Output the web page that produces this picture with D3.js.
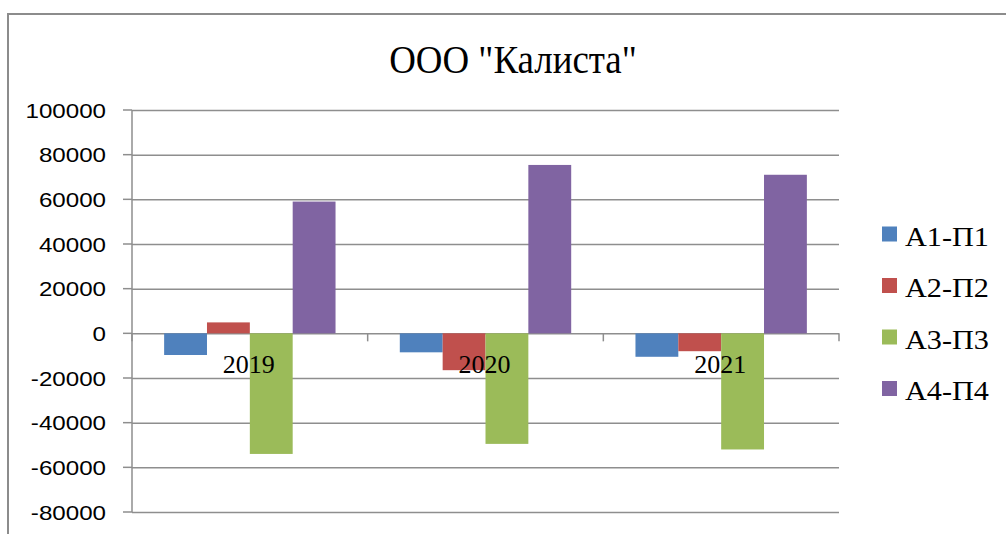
<!DOCTYPE html>
<html>
<head>
<meta charset="utf-8">
<script src="https://cdn.jsdelivr.net/npm/d3@7"></script>
<style>
  html, body { margin: 0; padding: 0; background: #fff; }
  svg { display: block; }
</style>
</head>
<body>
<svg id="chart" width="1006" height="534"></svg>
<script>
const title = 'ООО "Калиста"';
const categories = ["2019", "2020", "2021"];
const seriesNames = ["А1-П1", "А2-П2", "А3-П3", "А4-П4"];
const seriesColors = ["#4f81bd", "#c0504d", "#9bbb59", "#8064a2"];
const a1p1 = [-9700, -8500, -10500];
const a2p2 = [4900, -16500, -8000];
const a3p3 = [-54000, -49500, -52000];
const a4p4 = [59000, 75400, 71000];
const yTicks = [-80000, -60000, -40000, -20000, 0, 20000, 40000, 60000, 80000, 100000];

const seriesValues = [a1p1, a2p2, a3p3, a4p4];

(function () {
const svg = d3.select("#chart");
const W = 1006, H = 534;
const pLeft = 132, pRight = 839, pTop = 110, pBottom = 512;
const gridColor = "#8e8e8e";

svg.append("rect").attr("width", W).attr("height", H).attr("fill", "#fff");

// outer frame
svg.append("path")
  .attr("d", `M8,${H} L8,14 L${W},14`)
  .attr("fill", "none").attr("stroke", "#8c8c8c").attr("stroke-width", 2);

// title
svg.append("text")
  .attr("transform", "translate(513,73) scale(0.9,1)")
  .attr("text-anchor", "middle")
  .attr("font-family", "Liberation Serif, Times New Roman, serif")
  .attr("font-size", 41)
  .attr("fill", "#000")
  .text(title);

const y = d3.scaleLinear().domain([-80000, 100000]).range([pBottom, pTop]);
const x0 = d3.scaleBand().domain(categories).range([pLeft, pRight]).paddingInner(0).paddingOuter(0);
const x1 = d3.scaleBand().domain(seriesNames).range([0, x0.bandwidth()]).paddingInner(0).paddingOuter(0.75);

// gridlines
const yAxis = d3.axisLeft(y).tickValues(yTicks).tickSize(-(pRight - pLeft)).tickFormat("");
const gy = svg.append("g").attr("transform", `translate(${pLeft},0)`).call(yAxis);
gy.select(".domain").remove();
gy.selectAll(".tick line").attr("stroke", gridColor).attr("stroke-width", 1.5);
// outer small ticks
svg.append("g").selectAll("line").data(yTicks).join("line")
  .attr("x1", pLeft - 9).attr("x2", pLeft)
  .attr("y1", d => y(d)).attr("y2", d => y(d))
  .attr("stroke", gridColor).attr("stroke-width", 1.5);

// y labels
svg.append("g").selectAll("text").data(yTicks).join("text")
  .attr("transform", d => `translate(106,${y(d)}) scale(1.15,1)`)
  .attr("dy", "0.36em")
  .attr("text-anchor", "end")
  .attr("font-family", "Liberation Sans, Arial, sans-serif")
  .attr("font-size", 21)
  .attr("fill", "#000")
  .text(d => d);

// y axis line
svg.append("line")
  .attr("x1", pLeft).attr("x2", pLeft).attr("y1", pTop).attr("y2", pBottom)
  .attr("stroke", gridColor).attr("stroke-width", 1.5);

// category ticks on zero line
const boundaries = [pLeft].concat(categories.map(c => x0(c) + x0.bandwidth()));
svg.append("g").selectAll("line").data(boundaries).join("line")
  .attr("x1", d => d).attr("x2", d => d)
  .attr("y1", y(0)).attr("y2", y(0) + 8)
  .attr("stroke", gridColor).attr("stroke-width", 1.5);

// bars
const groups = svg.append("g").selectAll("g").data(categories).join("g")
  .attr("transform", c => `translate(${x0(c)},0)`);
groups.selectAll("rect")
  .data((c, ci) => seriesNames.map((s, si) => ({ s, si, v: seriesValues[si][ci] })))
  .join("rect")
  .attr("x", d => x1(d.s))
  .attr("width", x1.bandwidth())
  .attr("y", d => y(Math.max(0, d.v)))
  .attr("height", d => Math.abs(y(d.v) - y(0)))
  .attr("fill", d => seriesColors[d.si]);

// category labels
svg.append("g").selectAll("text").data(categories).join("text")
  .attr("x", c => x0(c) + x0.bandwidth() / 2 - 1)
  .attr("y", 373)
  .attr("text-anchor", "middle")
  .attr("font-family", "Liberation Serif, Times New Roman, serif")
  .attr("font-size", 26)
  .attr("fill", "#000")
  .text(c => c);

// legend
const legendY = [234, 285.5, 337, 388.5];
const lg = svg.append("g").selectAll("g").data(seriesNames).join("g")
  .attr("transform", (d, i) => `translate(882,${legendY[i]})`);
lg.append("rect").attr("x", 0).attr("y", -7.5).attr("width", 15).attr("height", 15)
  .attr("fill", (d, i) => seriesColors[i]);
lg.append("text")
  .attr("transform", "translate(23,11.5) scale(1.12,1)")
  .attr("font-family", "Liberation Serif, Times New Roman, serif")
  .attr("font-size", 27)
  .attr("fill", "#000")
  .text(d => d);
})();
</script>
</body>
</html>
